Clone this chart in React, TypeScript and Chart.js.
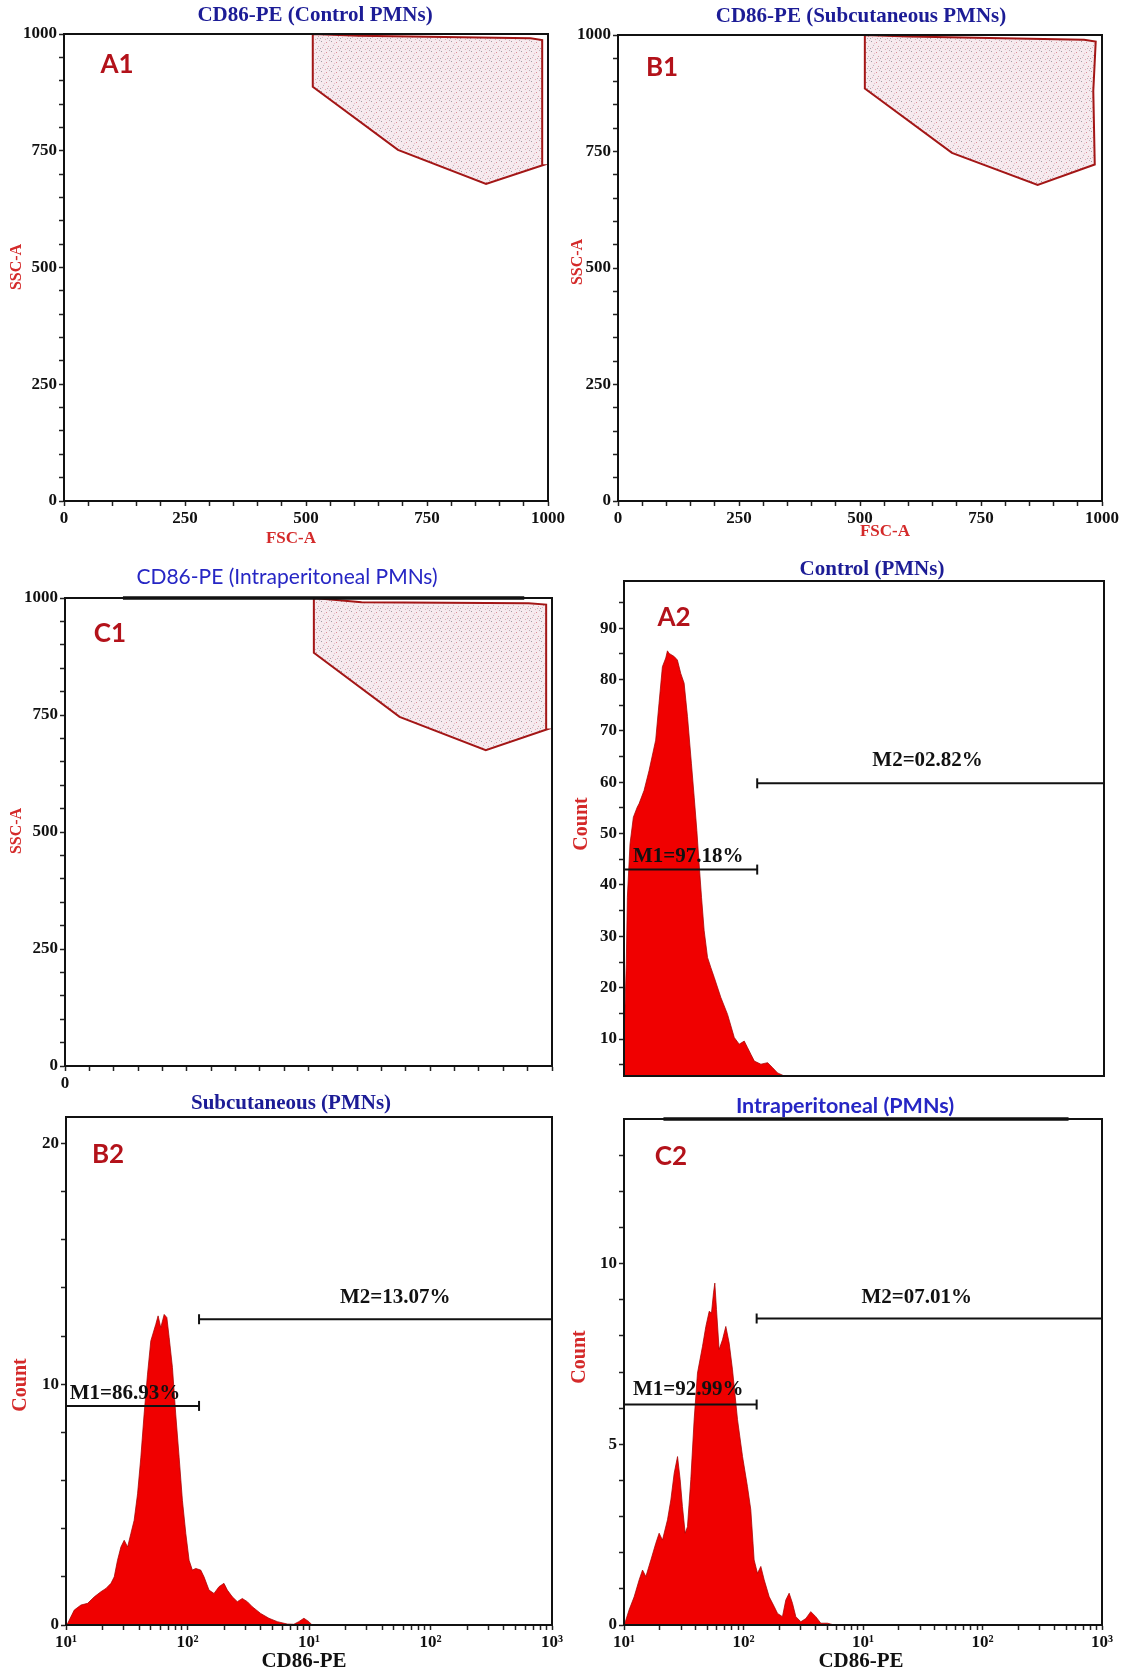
import React, { useEffect, useRef } from 'react';
import { Chart, registerables } from 'chart.js';

Chart.register(...registerables);

const PAGE_W = 1123;
const PAGE_H = 1675;

// ---------------- data ----------------
const SCATTER_TICK_LABELS = ['0', '250', '500', '750', '1000'];
const HIST_X_TICK_LABELS = ['10¹', '10²', '10¹', '10²', '10³'];

const GATE_A1_X = [514, 514, 690, 872, 989, 988, 964, 609, 514];
const GATE_A1_Y = [1000, 887, 752, 679, 719, 987, 991, 996, 1000];
const GATE_B1_X = [510, 510, 690, 867, 985, 982, 987, 963, 600, 510];
const GATE_B1_Y = [1000, 885, 747, 678, 722, 880, 986, 990, 997, 1000];
const GATE_C1_X = [511, 511, 687, 864, 989, 988, 952, 609, 511];
const GATE_C1_Y = [1000, 883, 746, 675, 719, 986, 989, 991, 1000];
const C1_TOP_BAR_X = [119, 943];

const A2_X = [0, 0.019, 0.028, 0.05, 0.078, 0.111, 0.125, 0.167, 0.209, 0.264, 0.292, 0.32, 0.348, 0.362, 0.376, 0.418, 0.445, 0.473, 0.501, 0.529, 0.562, 0.585, 0.607, 0.626, 0.646, 0.668, 0.696, 0.724, 0.752, 0.807, 0.863, 0.919, 0.96, 1.002, 1.03, 1.058, 1.086, 1.141, 1.197, 1.239, 1.28, 1.336];
const A2_Y = [10, 24.6, 37.6, 48, 53.2, 55.2, 55.8, 58.4, 62.3, 68.2, 75.4, 82.5, 84.2, 85.6, 85.1, 84.5, 83.8, 81.2, 79.3, 72.8, 63.6, 57.1, 50.6, 44.1, 37.6, 31.1, 25.9, 23.9, 22.0, 18.1, 14.8, 10.3, 9.0, 9.6, 8.3, 7.0, 5.7, 5.1, 5.4, 4.4, 3.4, 2.8];
const A2_Y_TICKS = [10, 20, 30, 40, 50, 60, 70, 80, 90];

const B2_X = [0, 0.014, 0.068, 0.123, 0.178, 0.233, 0.287, 0.329, 0.37, 0.397, 0.424, 0.452, 0.479, 0.507, 0.534, 0.561, 0.589, 0.616, 0.643, 0.671, 0.698, 0.739, 0.758, 0.78, 0.808, 0.83, 0.849, 0.876, 0.903, 0.931, 0.958, 0.986, 1.013, 1.04, 1.068, 1.109, 1.136, 1.177, 1.218, 1.259, 1.3, 1.328, 1.369, 1.41, 1.451, 1.492, 1.533, 1.602, 1.67, 1.739, 1.821, 1.875, 1.916, 1.958, 1.999, 2.026];
const B2_Y = [0, 0.07, 0.62, 0.83, 0.9, 1.17, 1.38, 1.52, 1.73, 2.0, 2.69, 3.24, 3.52, 3.24, 3.8, 4.35, 5.45, 6.97, 8.76, 10.42, 11.8, 12.49, 12.84, 12.35, 12.9, 12.77, 11.94, 10.7, 8.76, 6.97, 5.18, 3.8, 2.69, 2.28, 2.35, 2.28, 2.0, 1.45, 1.31, 1.59, 1.73, 1.45, 1.17, 0.97, 1.1, 0.97, 0.76, 0.48, 0.28, 0.14, 0.04, 0.03, 0.14, 0.28, 0.14, 0];
const B2_Y_TICKS = [0, 10, 20];

const C2_X = [0, 0.007, 0.043, 0.085, 0.127, 0.155, 0.183, 0.225, 0.266, 0.294, 0.322, 0.364, 0.392, 0.42, 0.448, 0.47, 0.489, 0.512, 0.531, 0.559, 0.587, 0.615, 0.657, 0.685, 0.713, 0.732, 0.749, 0.76, 0.774, 0.796, 0.824, 0.852, 0.88, 0.908, 0.95, 0.992, 1.033, 1.061, 1.089, 1.117, 1.145, 1.173, 1.215, 1.257, 1.285, 1.326, 1.354, 1.382, 1.41, 1.438, 1.48, 1.522, 1.563, 1.605, 1.647, 1.703, 1.759];
const C2_Y = [0, 0.05, 0.42, 0.78, 1.25, 1.52, 1.34, 1.8, 2.26, 2.54, 2.35, 2.91, 3.46, 4.2, 4.66, 4.02, 3.28, 2.54, 2.72, 4.02, 5.68, 6.97, 7.71, 8.26, 8.68, 8.63, 9.19, 9.46, 8.73, 7.62, 7.89, 8.26, 7.8, 7.06, 5.68, 4.66, 3.83, 3.19, 1.8, 1.43, 1.62, 1.25, 0.78, 0.51, 0.32, 0.23, 0.69, 0.88, 0.6, 0.23, 0.09, 0.18, 0.37, 0.23, 0.05, 0.05, 0];
const C2_Y_TICKS = [0, 5, 10];
const C2_TOP_BAR_X = [0.33, 3.72];

// marker bars: [x0, x1, y]
const A2_M1 = [0, 1.11, 43];
const A2_M2 = [1.11, 4, 59.8];
const B2_M1 = [0, 1.095, 9.1];
const B2_M2 = [1.095, 4, 12.7];
const C2_M1 = [0, 1.11, 6.1];
const C2_M2 = [1.11, 4, 8.48];
const A2_M_LABELS = ['M1=97.18%', 'M2=02.82%'];
const B2_M_LABELS = ['M1=86.93%', 'M2=13.07%'];
const C2_M_LABELS = ['M1=92.99%', 'M2=07.01%'];
// label anchor positions (decade on x axis)
const A2_M_LABEL_X = [0.075, 2.53];
const B2_M_LABEL_X = [0.03, 2.71];
const C2_M_LABEL_X = [0.075, 2.45];

// ---------------- styles ----------------
const SERIF = '"Liberation Serif","Times New Roman",serif';
const SANS = 'Lato,"Open Sans",sans-serif';
const TITLE_BLUE = '#1c1c96';
const TITLE_BLUE2 = '#2626c4';
const PANEL_RED = '#b3121a';
const AXIS_RED = '#d42a2a';
const INK = '#111111';
const Y_W = 60;
const X_H = 40;

const TILE_SPECKS: [number, number, string][] = [
  [1, 1, 'rgba(110,100,115,0.6)'], [6, 2, 'rgba(200,60,80,0.55)'], [3, 5, 'rgba(130,130,145,0.55)'],
  [8, 6, 'rgba(190,80,100,0.5)'], [0, 8, 'rgba(105,105,120,0.55)'], [5, 9, 'rgba(210,90,110,0.45)'],
  [9, 0, 'rgba(140,125,135,0.5)'], [4, 3, 'rgba(220,120,140,0.4)'], [7, 8, 'rgba(120,115,130,0.5)'],
  [2, 7, 'rgba(200,100,120,0.4)'],
];

type Area = { l: number; t: number; r: number; b: number };
type Txt = {
  text: string; x: number; y: number; font: string; color: string;
  align?: CanvasTextAlign; baseline?: CanvasTextBaseline; rotate?: boolean; data?: boolean; dy?: number;
};

const toPts = (xs: number[], ys: number[]) => xs.map((x, i) => ({ x, y: ys[i] }));

function title(text: string, x: number, y: number, bold = true, serif = true, color = TITLE_BLUE): Txt {
  return { text, x, y, font: `${bold ? 'bold ' : ''}21px ${serif ? SERIF : SANS}`, color };
}
function panelLabel(text: string, x: number, y: number): Txt {
  return { text, x, y, font: `bold 26px ${SANS}`, color: PANEL_RED };
}
function axisTitle(text: string, x: number, y: number, rotate: boolean, size: number, color: string): Txt {
  return { text, x, y, font: `bold ${size}px ${SERIF}`, color, rotate };
}

type Panel = {
  id: string; kind: 'scatter' | 'hist'; area: Area; texts: Txt[];
  gateX?: number[]; gateY?: number[]; topBar?: number[]; xLabels?: 'all' | 'zero' | 'none';
  hx?: number[]; hy?: number[]; yMin?: number; yMax?: number; yMajor?: number[]; yMinorStep?: number;
  m1?: number[]; m2?: number[]; mLabels?: string[]; mLabelX?: number[]; mDy?: number[];
};

const PANELS: Panel[] = [
  {
    id: 'A1', kind: 'scatter', area: { l: 64, t: 34, r: 548, b: 501 }, gateX: GATE_A1_X, gateY: GATE_A1_Y, xLabels: 'all',
    texts: [title('CD86-PE (Control PMNs)', 315, 16), panelLabel('A1', 117, 65),
      axisTitle('FSC-A', 291, 539, false, 17, AXIS_RED), axisTitle('SSC-A', 17, 267, true, 16, AXIS_RED)],
  },
  {
    id: 'B1', kind: 'scatter', area: { l: 618, t: 35, r: 1102, b: 501 }, gateX: GATE_B1_X, gateY: GATE_B1_Y, xLabels: 'all',
    texts: [title('CD86-PE (Subcutaneous PMNs)', 861, 17), panelLabel('B1', 662, 68),
      axisTitle('FSC-A', 885, 532, false, 17, AXIS_RED), axisTitle('SSC-A', 578, 262, true, 16, AXIS_RED)],
  },
  {
    id: 'C1', kind: 'scatter', area: { l: 65, t: 598, r: 552, b: 1066 }, gateX: GATE_C1_X, gateY: GATE_C1_Y, xLabels: 'zero', topBar: C1_TOP_BAR_X,
    texts: [title('CD86-PE (Intraperitoneal PMNs)', 287, 577, false, false, TITLE_BLUE2), panelLabel('C1', 110, 634),
      axisTitle('SSC-A', 17, 831, true, 16, AXIS_RED)],
  },
  {
    id: 'A2', kind: 'hist', area: { l: 624, t: 581, r: 1104, b: 1076 }, hx: A2_X, hy: A2_Y, yMin: 2.8, yMax: 99.2,
    yMajor: A2_Y_TICKS, yMinorStep: 5, m1: A2_M1, m2: A2_M2, mLabels: A2_M_LABELS, mLabelX: A2_M_LABEL_X, mDy: [8, 17], xLabels: 'none',
    texts: [title('Control (PMNs)', 872, 570), panelLabel('A2', 674, 618), axisTitle('Count', 582, 824, true, 20, AXIS_RED)],
  },
  {
    id: 'B2', kind: 'hist', area: { l: 66, t: 1117, r: 552, b: 1625 }, hx: B2_X, hy: B2_Y, yMin: 0, yMax: 21.1,
    yMajor: B2_Y_TICKS, yMinorStep: 2, m1: B2_M1, m2: B2_M2, mLabels: B2_M_LABELS, mLabelX: B2_M_LABEL_X, mDy: [7, 16], xLabels: 'all',
    texts: [title('Subcutaneous (PMNs)', 291, 1104), panelLabel('B2', 108, 1155),
      axisTitle('Count', 21, 1385, true, 20, AXIS_RED), axisTitle('CD86-PE', 304, 1662, false, 21, INK)],
  },
  {
    id: 'C2', kind: 'hist', area: { l: 624, t: 1119, r: 1102, b: 1625 }, hx: C2_X, hy: C2_Y, yMin: 0, yMax: 14,
    yMajor: C2_Y_TICKS, yMinorStep: 1, m1: C2_M1, m2: C2_M2, mLabels: C2_M_LABELS, mLabelX: C2_M_LABEL_X, mDy: [10, 16], xLabels: 'all', topBar: C2_TOP_BAR_X,
    texts: [{ ...title('Intraperitoneal (PMNs)', 845, 1106, true, false, TITLE_BLUE2), font: `bold 21.5px ${SANS}` }, panelLabel('C2', 671, 1157),
      axisTitle('Count', 580, 1357, true, 20, AXIS_RED), axisTitle('CD86-PE', 861, 1662, false, 21, INK)],
  },
];

function makePattern(ctx: CanvasRenderingContext2D) {
  const c = document.createElement('canvas');
  c.width = 10; c.height = 10;
  const g = c.getContext('2d')!;
  g.fillStyle = 'rgba(238,214,222,0.5)';
  g.fillRect(0, 0, 10, 10);
  TILE_SPECKS.forEach(([x, y, col]) => { g.fillStyle = col; g.fillRect(x, y, 1, 1); });
  return ctx.createPattern(c, 'repeat');
}

function textPlugin(p: Panel) {
  return {
    id: 'panelText' + p.id,
    afterDraw(chart: any) {
      const { ctx, chartArea } = chart;
      ctx.save();
      ctx.strokeStyle = INK;
      ctx.lineWidth = 2;
      ctx.strokeRect(chartArea.left, chartArea.top, chartArea.right - chartArea.left, chartArea.bottom - chartArea.top);
      const all: Txt[] = [...p.texts];
      if (p.mLabels && p.m1 && p.m2 && p.mLabelX && p.mDy) {
        all.push({ text: p.mLabels[0], x: p.mLabelX[0], y: p.m1[2], font: `bold 21px ${SERIF}`, color: INK, align: 'left', baseline: 'alphabetic', data: true, dy: p.mDy[0] });
        all.push({ text: p.mLabels[1], x: p.mLabelX[1], y: p.m2[2], font: `bold 21px ${SERIF}`, color: INK, align: 'center', baseline: 'alphabetic', data: true, dy: p.mDy[1] });
      }
      for (const t of all) {
        ctx.font = t.font;
        ctx.fillStyle = t.color;
        ctx.textAlign = t.align || 'center';
        ctx.textBaseline = t.baseline || 'middle';
        let x = t.x, y = t.y;
        if (t.data) {
          x = chart.scales.x.getPixelForValue(t.x);
          y = chart.scales.y.getPixelForValue(t.y) - (t.dy || 0);
        }
        if (t.rotate) {
          ctx.save(); ctx.translate(x, y); ctx.rotate(-Math.PI / 2); ctx.fillText(t.text, 0, 0); ctx.restore();
        } else {
          ctx.fillText(t.text, x, y);
        }
      }
      ctx.restore();
    },
  };
}

const tickFont = { family: SERIF, weight: 'bold' as const, size: 17 };

function buildConfig(p: Panel, canvas: HTMLCanvasElement): any {
  const ctx = canvas.getContext('2d')!;
  const a = p.area;
  const padding = { left: a.l - Y_W, top: a.t, right: PAGE_W - a.r, bottom: PAGE_H - a.b - X_H };
  const gridBase = { display: true, drawOnChartArea: false, drawTicks: true, tickLength: 5, tickColor: '#222', tickWidth: 1.5 };
  const border = { display: true, color: INK, width: 2 };
  const datasets: any[] = [];
  let scales: any;

  if (p.kind === 'scatter') {
    const minor: number[] = [];
    for (let v = 0; v <= 1000; v += 50) minor.push(v);
    const labelFor = (v: number) => (v % 250 === 0 ? SCATTER_TICK_LABELS[v / 250] : '');
    if (p.topBar) {
      datasets.push({
        data: [{ x: p.topBar[0], y: 1000 }, { x: p.topBar[1], y: 1000 }], showLine: true, borderColor: INK, borderWidth: 3.5,
        pointRadius: 0, fill: false, clip: 6, order: 0,
      });
    }
    datasets.push({
      data: toPts(p.gateX!, p.gateY!), showLine: true, fill: 'shape', backgroundColor: makePattern(ctx),
      borderColor: '#a31616', borderWidth: 2, pointRadius: 0, tension: 0, clip: 3, order: 1,
    });
    scales = {
      x: {
        type: 'linear', min: 0, max: 1000, grid: gridBase, border,
        afterBuildTicks: (s: any) => { s.ticks = minor.map((v) => ({ value: v })); },
        afterFit: (s: any) => { s.height = X_H; },
        ticks: {
          autoSkip: false, maxRotation: 0, padding: 2, color: INK, font: tickFont,
          callback: (v: number) => (p.xLabels === 'all' ? labelFor(v) : v === 0 ? '0' : ''),
        },
      },
      y: {
        type: 'linear', min: 0, max: 1000, grid: gridBase, border,
        afterBuildTicks: (s: any) => { s.ticks = minor.map((v) => ({ value: v })); },
        afterFit: (s: any) => { s.width = Y_W; },
        ticks: { autoSkip: false, padding: 2, color: INK, font: tickFont, callback: (v: number) => labelFor(v) },
      },
    };
  } else {
    const xt: number[] = [];
    for (let d = 0; d < 4; d++) {
      xt.push(d);
      for (let k = 2; k <= 9; k++) xt.push(d + Math.log10(k));
    }
    xt.push(4);
    const yt: number[] = [];
    for (let v = Math.ceil(p.yMin! / p.yMinorStep!) * p.yMinorStep!; v < p.yMax! - 0.3; v += p.yMinorStep!) yt.push(v);
    const mk = (m: number[], capIdx: number) => ({
      data: [{ x: m[0], y: m[2] }, { x: m[1], y: m[2] }], borderColor: INK, borderWidth: 2, fill: false,
      pointStyle: 'line', pointRotation: 90, pointRadius: capIdx === 0 ? [5, 0] : [0, 5], pointBorderWidth: 2,
      pointBorderColor: INK, pointBackgroundColor: INK, clip: 4, order: 1,
    });
    if (p.topBar) {
      datasets.push({
        data: [{ x: p.topBar[0], y: p.yMax }, { x: p.topBar[1], y: p.yMax }], borderColor: INK, borderWidth: 3.5,
        pointRadius: 0, fill: false, clip: 6, order: 0,
      });
    }
    datasets.push(mk(p.m1!, 1));
    datasets.push(mk(p.m2!, 0));
    datasets.push({
      data: toPts(p.hx!, p.hy!), borderColor: 'rgba(165,0,0,0.75)', borderWidth: 1, backgroundColor: '#f00000',
      fill: 'start', pointRadius: 0, tension: 0, order: 2,
    });
    scales = {
      x: {
        type: 'linear', min: 0, max: 4, border,
        grid: p.xLabels === 'none' ? { display: true, drawOnChartArea: false, drawTicks: false } : gridBase,
        afterBuildTicks: (s: any) => { s.ticks = xt.map((v) => ({ value: v })); },
        afterFit: (s: any) => { s.height = X_H; },
        ticks: {
          display: p.xLabels !== 'none', autoSkip: false, maxRotation: 0, padding: 2, color: INK, font: tickFont,
          callback: (v: number) => (Number.isInteger(v) ? HIST_X_TICK_LABELS[v] : ''),
        },
      },
      y: {
        type: 'linear', min: p.yMin, max: p.yMax, grid: gridBase, border,
        afterBuildTicks: (s: any) => { s.ticks = yt.map((v) => ({ value: v })); },
        afterFit: (s: any) => { s.width = Y_W; },
        ticks: {
          autoSkip: false, padding: 2, color: INK, font: tickFont,
          callback: (v: number) => (p.yMajor!.includes(v) ? String(v) : ''),
        },
      },
    };
  }

  return {
    type: p.kind === 'scatter' ? 'scatter' : 'line',
    data: { datasets },
    options: {
      animation: false, responsive: false, maintainAspectRatio: false, devicePixelRatio: 1,
      layout: { padding },
      plugins: { legend: { display: false }, tooltip: { enabled: false }, title: { display: false } },
      events: [],
      scales,
    },
    plugins: [textPlugin(p)],
  };
}

export default function App() {
  const refs = useRef<(HTMLCanvasElement | null)[]>([]);
  useEffect(() => {
    const charts = PANELS.map((p, i) => new Chart(refs.current[i]!, buildConfig(p, refs.current[i]!)));
    return () => charts.forEach((c) => c.destroy());
  }, []);
  return (
    <div style={{ position: 'absolute', left: 0, top: 0, width: PAGE_W, height: PAGE_H, background: '#ffffff', overflow: 'hidden' }}>
      {PANELS.map((p, i) => (
        <canvas
          key={p.id}
          ref={(el) => { refs.current[i] = el; }}
          width={PAGE_W}
          height={PAGE_H}
          style={{ position: 'absolute', left: 0, top: 0, width: PAGE_W, height: PAGE_H }}
        />
      ))}
    </div>
  );
}
